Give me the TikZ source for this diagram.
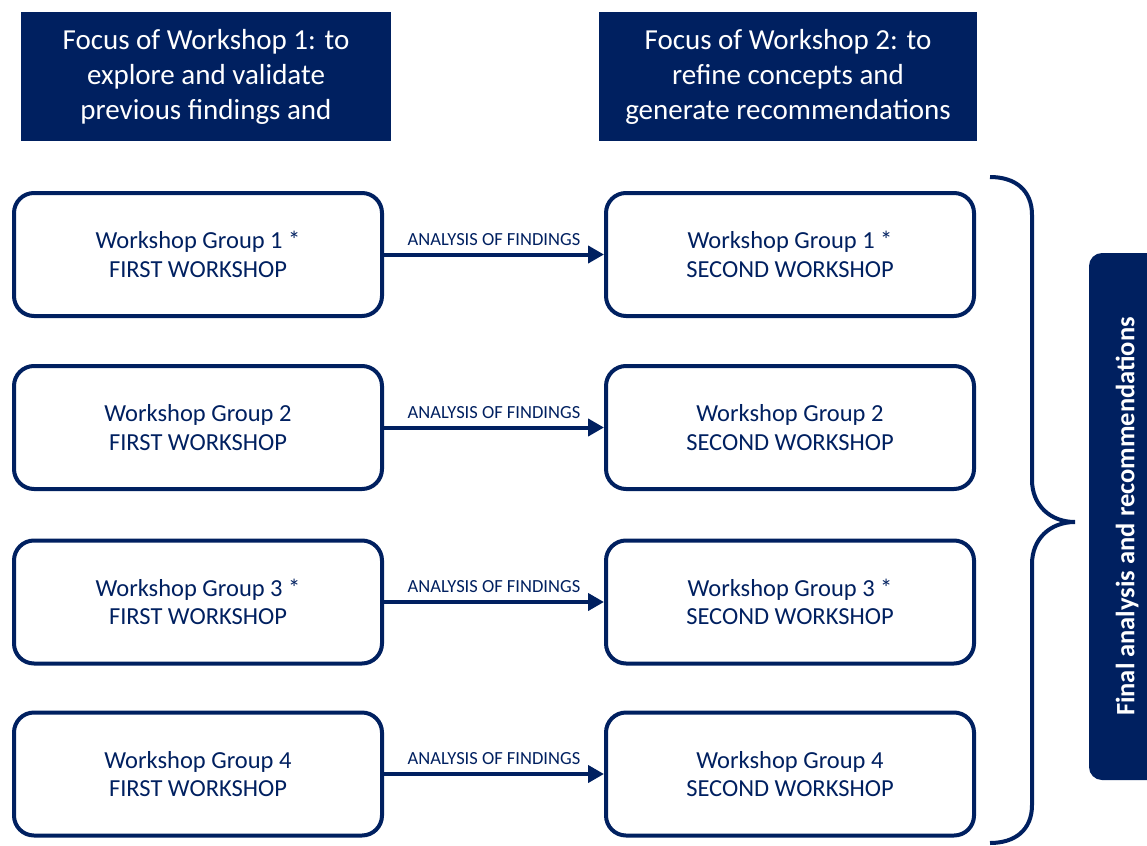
\documentclass[tikz,border=0pt]{standalone}
\usepackage{fontspec}
\setmainfont{Carlito}
\usetikzlibrary{arrows.meta}
\definecolor{navy}{HTML}{002060}
\begin{document}
\begin{tikzpicture}[x=1pt,y=-1pt,
  header/.style={fill=navy,text=white,minimum width=#1,minimum height=129pt,inner sep=0pt,align=center,font=\fontsize{29}{35}\selectfont},
  wbox/.style={draw=navy,line width=4pt,rounded corners=20pt,minimum width=368pt,minimum height=123pt,inner sep=0pt,align=center,text=navy,font=\fontsize{24.5}{28.5}\selectfont},
  arr/.style={draw=navy,line width=4pt,-{Triangle[length=16pt,width=17pt]}},
  lbl/.style={text=navy,font=\fontsize{18.5}{20}\selectfont,inner sep=0pt},
  brace/.style={draw=navy,line width=4pt},
  finalbox/.style={fill=navy,rounded corners=13pt,minimum width=90pt,minimum height=527pt,inner sep=0pt}
]
\useasboundingbox (0,0) rectangle (1147,845);
\fill[white] (0,0) rectangle (1147,845);

\node[header=370pt] (h1) at (206,76.5) {Focus of Workshop 1: to\\explore and validate\\previous findings and};
\node[header=378pt] (h2) at (788,76.5) {Focus of Workshop 2: to\\refine concepts and\\generate recommendations};

\foreach \i/\y/\s in {1/254.5/{ *},2/427.5/{},3/602/{ *},4/774/{}} {
  \node[wbox] (l\i) at (198,\y) {Workshop Group \i\s\\FIRST WORKSHOP};
  \node[wbox] (r\i) at (790,\y) {Workshop Group \i\s\\SECOND WORKSHOP};
  \draw[arr] (l\i.east) -- node[lbl,above=7pt] (a\i) {ANALYSIS OF FINDINGS} (r\i.west);
}

\draw[brace] (990,177) .. controls (1015,177) and (1032,190) .. (1032,215) -- (1032,480)
  .. controls (1032,505) and (1050,522) .. (1075,522)
  .. controls (1050,522) and (1032,539) .. (1032,564) -- (1032,805)
  .. controls (1032,830) and (1015,843) .. (990,843);

\node[finalbox] (fb) at (1134,516.5) {};
\node[text=white,rotate=90,font=\fontsize{26.5}{30}\bfseries\selectfont,inner sep=0pt] (ft) at (1127,516.5) {Final analysis and recommendations};
\end{tikzpicture}
\end{document}
